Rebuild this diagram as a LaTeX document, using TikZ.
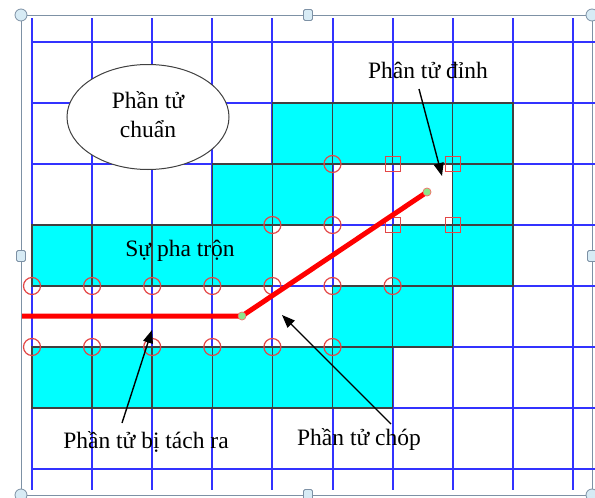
\documentclass[tikz,border=0pt]{standalone}
\usepackage{fontspec}
\setmainfont{Liberation Serif}
\usetikzlibrary{arrows.meta,shapes.geometric}
\definecolor{gridblue}{RGB}{50,50,255}
\definecolor{cellcyan}{RGB}{0,255,255}
\definecolor{ringred}{RGB}{228,70,70}
\definecolor{framegray}{RGB}{125,145,165}
\definecolor{handlefill}{RGB}{215,235,245}
\definecolor{dotgreen}{RGB}{140,230,140}
\tikzset{
  gridline/.style={gridblue, line width=2},
  cellfill/.style={fill=cellcyan},
  celledge/.style={draw=black!75, line width=1.5},
  ring/.style={circle, draw=ringred, line width=1.2, minimum size=17pt, inner sep=0pt},
  sq/.style={rectangle, draw=ringred, line width=1.2, minimum size=15pt, inner sep=0pt},
  label/.style={font=\fontsize{23.5}{28}\selectfont, inner sep=0pt, anchor=base},
  pointer/.style={draw=black, line width=1.4, -{Triangle[length=13pt,width=10pt]}},
  cornerhandle/.style={circle, draw=framegray, fill=handlefill, minimum size=12pt, inner sep=0pt, line width=0.8},
  sidehandle/.style={rectangle, rounded corners=1.5pt, draw=framegray, fill=handlefill, minimum width=9pt, minimum height=11pt, inner sep=0pt, line width=0.8},
  dot/.style={circle, fill=dotgreen, draw=red!60, line width=0.5, minimum size=8pt, inner sep=0pt}
}
\begin{document}
\begin{tikzpicture}[x=1pt,y=-1pt]
\useasboundingbox (0,0) rectangle (595,498);
\fill[white] (0,0) rectangle (595,498);
% selection frame
\draw[framegray, line width=1] (21,15) rectangle (592,495);
% grid
\foreach \i in {0,...,9} \draw[gridline] ({32+60.1*\i},18) -- ({32+60.1*\i},490);
\foreach \j in {0,...,7} \draw[gridline] (32,{42+61*\j}) -- (595,{42+61*\j});
% cyan cells: fill first, then edges
\foreach \c/\r in {4/1,5/1,6/1,7/1,3/2,4/2,7/2,0/3,1/3,2/3,3/3,6/3,7/3,5/4,6/4,0/5,1/5,2/5,3/5,4/5,5/5}
  \path[cellfill] ({32+60.1*\c},{42+61*\r}) rectangle ++(60.1,61);
\foreach \c/\r in {4/1,5/1,6/1,7/1,3/2,4/2,7/2,0/3,1/3,2/3,3/3,6/3,7/3,5/4,6/4,0/5,1/5,2/5,3/5,4/5,5/5}
  \path[celledge] ({32+60.1*\c},{42+61*\r}) rectangle ++(60.1,61);
% red rings
\foreach \c/\r [count=\k] in {0/4,1/4,2/4,3/4,4/4,0/5,1/5,2/5,3/5,4/5,4/3,5/3,5/2,5/4,6/4,5/5}
  \node[ring] (ring\k) at ({32+60.1*\c},{42+61*\r}) {};
\foreach \c/\r [count=\k] in {6/2,7/2,6/3,7/3}
  \node[sq] (sq\k) at ({32+60.1*\c},{42+61*\r}) {};
% red path
\coordinate (pstart) at (22,316);
\node[dot] (bend) at (242,316) {};
\node[dot] (tip) at (427,192) {};
\draw[red, line width=5] (pstart) -- (bend.center) -- (tip.center);
\node[dot] at (bend) {};
\node[dot] at (tip) {};
% ellipse
\node[ellipse, draw=black!75, fill=white, line width=1, minimum width=162pt, minimum height=105pt, inner sep=0pt] (std) at (148,117) {};
\node[label] (stdtxt1) at (148,108) {Phần tử};
\node[label] (stdtxt2) at (148,137) {chuẩn};
% labels
\node[label] (dinh) at (428,78) {Phân tử đỉnh};
\node[label] (mix) at (180,256) {Sự pha trộn};
\node[label] (sep) at (146,448) {Phần tử bị tách ra};
\node[label] (chop) at (359,445) {Phần tử chóp};
% arrows
\coordinate (dinhA) at (419,89);
\coordinate (dinhB) at (442,176);
\coordinate (sepA) at (122,423);
\coordinate (sepB) at (152,330);
\coordinate (chopA) at (391,424);
\coordinate (chopB) at (282,315);
\draw[pointer] (dinhA) -- (dinhB);
\draw[pointer] (sepA) -- (sepB);
\draw[pointer] (chopA) -- (chopB);
% handles
\node[cornerhandle] (h1) at (21,15) {};
\node[cornerhandle] (h2) at (592,15) {};
\node[cornerhandle] (h3) at (21,495) {};
\node[cornerhandle] (h4) at (592,495) {};
\node[sidehandle] (h5) at (308,15) {};
\node[sidehandle] (h6) at (21,256) {};
\node[sidehandle] (h7) at (592,256) {};
\node[sidehandle] (h8) at (308,495) {};
\end{tikzpicture}
\end{document}
